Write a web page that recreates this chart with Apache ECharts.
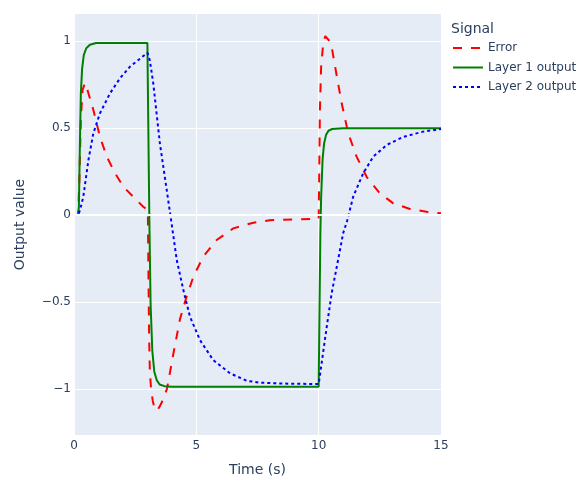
<!DOCTYPE html>
<html lang="en">
<head>
    <meta charset="UTF-8" />
    <title>Signal</title>
    <style>
        body {
            margin: 0;
            padding: 0;
            background: #fff;
        }
        .chart {
            width: 582px;
            height: 487px;
        }
    </style>
</head>
<body>
<div class="chart"></div>
<script src="https://cdn.jsdelivr.net/npm/echarts@6/dist/echarts.min.js"></script>
<script>
    // values
    const errT = [0, 0.17, 0.22, 0.28, 0.35, 0.45, 0.55, 0.8, 1.06, 1.34, 1.68, 2.02, 2.42, 2.83, 3.0,
        3.02, 3.04, 3.07, 3.1, 3.15, 3.22, 3.31, 3.42, 3.51, 3.65, 3.8, 4.06, 4.33, 4.6, 4.88, 5.28, 5.83,
        6.51, 7.33, 8, 9, 10.0, 10.02, 10.05, 10.1, 10.18, 10.27, 10.35, 10.45, 10.53, 10.74, 10.94, 11.21,
        11.55, 11.96, 12.5, 13.05, 13.73, 14.41, 15];
    const errV = [0, 0, 0.2, 0.55, 0.72, 0.76, 0.72, 0.6, 0.45, 0.336, 0.24, 0.163, 0.105, 0.048, 0.03,
        0.0, -0.3, -0.7, -0.9, -1.0, -1.07, -1.123, -1.12, -1.1, -1.06, -1.0, -0.8, -0.6, -0.47, -0.355, -0.24, -0.144,
        -0.077, -0.044, -0.03, -0.025, -0.022, 0.2, 0.6, 0.85, 0.98, 1.03, 1.04, 1.0, 0.969, 0.8, 0.643, 0.47,
        0.336, 0.22, 0.125, 0.067, 0.035, 0.019, 0.01];

    const l1T = [0, 0.17, 0.2, 0.24, 0.28, 0.33, 0.4, 0.5, 0.65, 0.9, 1.5, 2.0, 2.5, 3.0,
        3.03, 3.08, 3.13, 3.2, 3.28, 3.38, 3.5, 3.7, 4.0, 5, 6, 7, 8, 9, 10.0,
        10.03, 10.07, 10.1, 10.16, 10.22, 10.3, 10.4, 10.55, 11, 12, 13, 14, 15];
    const l1V = [0, 0, 0.05, 0.4, 0.7, 0.84, 0.92, 0.96, 0.98, 0.99, 0.99, 0.99, 0.99, 0.99,
        0.6, -0.03, -0.51, -0.78, -0.9, -0.95, -0.975, -0.985, -0.988, -0.988, -0.988, -0.988, -0.988, -0.988, -0.988,
        -0.6, -0.1, 0.1, 0.32, 0.41, 0.46, 0.485, 0.495, 0.499, 0.5, 0.5, 0.5, 0.5];

    const l2T = [0, 0.17, 0.25, 0.38, 0.59, 0.79, 1.06, 1.47, 1.88, 2.29, 2.7, 3.0, 3.1, 3.24, 3.51,
        3.79, 3.99, 4.2, 4.47, 4.74, 5.15, 5.69, 6.38, 7.06, 7.6, 8.5, 9.5, 10.0, 10.12, 10.33, 10.53,
        10.74, 11.0, 11.17, 11.41, 11.82, 12.23, 12.78, 13.46, 14.27, 15];
    const l2V = [0, 0, 0.03, 0.105, 0.317, 0.47, 0.585, 0.7, 0.787, 0.854, 0.9, 0.934, 0.89, 0.758, 0.413,
        0.144, -0.05, -0.259, -0.432, -0.585, -0.72, -0.835, -0.911, -0.954, -0.965, -0.97, -0.972, -0.973, -0.854, -0.643, -0.451,
        -0.298, -0.105, -0.03, 0.105, 0.24, 0.336, 0.403, 0.45, 0.48, 0.495];

    const xTicks = [0, 5, 10, 15];

    const zip = (t, v) => t.map((x, i) => [x, v[i]]);
    const txt = '#2a3f5f';
    const font = '"DejaVu Sans", Verdana, sans-serif';

    const instance = echarts.init(document.querySelector('.chart'));
    const option = {
        animation: false,
        textStyle: { fontFamily: font },
        title: {
            text: 'Signal',
            left: 446,
            top: 17,
            textStyle: { fontSize: 14, fontWeight: 'normal', color: txt, fontFamily: font }
        },
        legend: {
            orient: 'vertical',
            left: 447,
            top: 37,
            itemWidth: 30,
            itemHeight: 14,
            itemGap: 7.5,
            itemStyle: { opacity: 0 },
            textStyle: { fontSize: 12, color: txt, fontFamily: font },
            data: ['Error', 'Layer 1 output', 'Layer 2 output']
        },
        grid: { left: 74, top: 14, width: 367, height: 421, backgroundColor: '#E5ECF6', show: true, borderWidth: 0 },
        xAxis: {
            type: 'value',
            min: xTicks[0],
            max: xTicks[xTicks.length - 1],
            interval: 5,
            name: 'Time (s)',
            nameLocation: 'middle',
            nameGap: 28,
            nameTextStyle: { fontSize: 14, color: txt, fontFamily: font },
            axisLine: { show: false },
            axisTick: { show: false },
            axisLabel: { fontSize: 12, color: txt, margin: 5, fontFamily: font },
            splitLine: { lineStyle: { color: '#fff', width: 1 } }
        },
        yAxis: {
            type: 'value',
            min: -1.266,
            max: 1.157,
            splitNumber: 5,
            name: 'Output value',
            nameLocation: 'middle',
            nameGap: 47,
            nameTextStyle: { fontSize: 14, color: txt, fontFamily: font },
            axisLine: { show: false },
            axisTick: { show: false },
            axisLabel: {
                fontSize: 12, color: txt, margin: 3, showMinLabel: false, showMaxLabel: false, fontFamily: font,
                formatter: v => String(v).replace('-', '\u2212')
            },
            splitLine: { showMinLine: false, showMaxLine: false, lineStyle: { color: '#fff', width: 1 } }
        },
        series: [
            {
                name: 'zero',
                type: 'line',
                data: [],
                z: 1,
                silent: true,
                markLine: {
                    silent: true,
                    symbol: 'none',
                    label: { show: false },
                    lineStyle: { color: '#fff', width: 2, type: 'solid' },
                    data: [{ yAxis: 0 }]
                }
            },
            {
                name: 'Error',
                type: 'line',
                data: zip(errT, errV),
                symbol: 'none',
                color: '#ff0000',
                lineStyle: { color: '#ff0000', width: 2, type: [9, 9] }
            },
            {
                name: 'Layer 1 output',
                type: 'line',
                data: zip(l1T, l1V),
                symbol: 'none',
                color: '#008000',
                lineStyle: { color: '#008000', width: 2 }
            },
            {
                name: 'Layer 2 output',
                type: 'line',
                data: zip(l2T, l2V),
                symbol: 'none',
                color: '#0000ff',
                lineStyle: { color: '#0000ff', width: 2, type: [3, 3] }
            }
        ]
    };
    instance.setOption(option);
</script>
</body>
</html>
